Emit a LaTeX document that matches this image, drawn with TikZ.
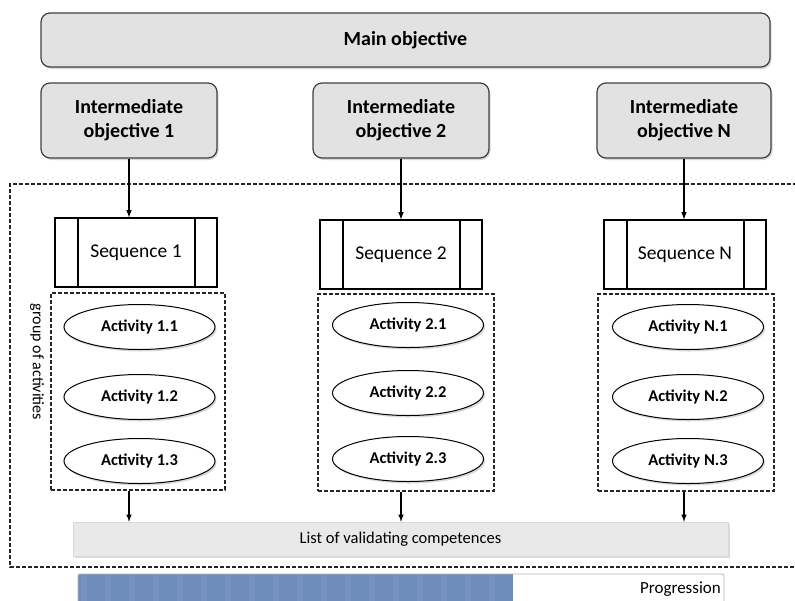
\documentclass[tikz,border=0pt]{standalone}
\usepackage{fontspec}
\setmainfont{Carlito}
\usetikzlibrary{shapes.geometric,shadows}

\definecolor{objgray}{HTML}{E2E2E2}
\definecolor{bargray}{HTML}{E9E9E9}
\definecolor{progblue}{HTML}{6E8DBA}
\definecolor{progstripe}{HTML}{7693BF}

\tikzset{
  softshadow/.style={drop shadow={opacity=0.3,shadow xshift=1.5pt,shadow yshift=-2pt}},
  dashline/.style={black!85, dash pattern=on 4pt off 2pt, line width=1.4pt},
  objective/.style={draw=black!75, line width=1.2pt, rounded corners=9pt, fill=objgray,
    softshadow, align=center, font=\fontsize{20}{24}\selectfont\bfseries},
  sequence/.style={draw, line width=1.2pt, fill=white, minimum width=162pt, minimum height=69pt,
    font=\fontsize{19.5}{22}\selectfont,
    path picture={
      \draw[line width=1.2pt] ([xshift=23pt]path picture bounding box.north west) -- ([xshift=23pt]path picture bounding box.south west);
      \draw[line width=1.2pt] ([xshift=-22pt]path picture bounding box.north east) -- ([xshift=-22pt]path picture bounding box.south east);
    }},
  activity/.style={ellipse, draw, line width=1pt, fill=white, minimum width=151pt, minimum height=45pt,
    softshadow, font=\fontsize{16.5}{19}\selectfont\bfseries},
  actgroup/.style={draw, dashline, minimum width=176pt, minimum height=197pt},
  flow/.style={-latex, line width=1.5pt},
}

\begin{document}
\begin{tikzpicture}[x=1pt,y=-1pt]
\useasboundingbox (0,0) rectangle (795,600);

% objectives
\node[objective, minimum width=729pt, minimum height=54pt] (main) at (405.5,40) {Main objective};
\node[objective, minimum width=176pt, minimum height=75pt] (int1) at (129,120.5) {Intermediate\\objective 1};
\node[objective, minimum width=176pt, minimum height=75pt] (int2) at (401,120.5) {Intermediate\\objective 2};
\node[objective, minimum width=174pt, minimum height=75pt] (intN) at (684,120.5) {Intermediate\\objective N};

% outer frame
\draw[dashline] (797,184) -| (10,567) -- (797,567);
\node[rotate=-90, font=\fontsize{16}{18}\selectfont] (grplabel) at (37,362) {group of activities};

% sequences
\node[sequence] (seq1) at (136,252.5) {Sequence 1};
\node[sequence] (seq2) at (401,254.5) {Sequence 2};
\node[sequence] (seqN) at (685,254.5) {Sequence N};

% groups of activities
\node[actgroup, minimum width=174pt] (grp1) at (138,391.5) {};
\node[actgroup] (grp2) at (406,392.5) {};
\node[actgroup] (grpN) at (686,392.5) {};

\node[activity] (a11) at (139.5,327) {Activity 1.1};
\node[activity] (a12) at (139.5,397) {Activity 1.2};
\node[activity] (a13) at (139.5,461) {Activity 1.3};
\node[activity] (a21) at (408,325) {Activity 2.1};
\node[activity] (a22) at (408,393) {Activity 2.2};
\node[activity] (a23) at (408,459) {Activity 2.3};
\node[activity] (aN1) at (688,327) {Activity N.1};
\node[activity] (aN2) at (688,397) {Activity N.2};
\node[activity] (aN3) at (688,461) {Activity N.3};

% competences
\node[draw=black!15, fill=bargray, softshadow, minimum width=655pt, minimum height=34pt,
  font=\fontsize{16.5}{19}\selectfont] (list) at (400.5,539) {List of validating competences};

\draw[flow] (int1.south) -- (int1 |- seq1.north);
\draw[flow] (int2.south) -- (int2 |- seq2.north);
\draw[flow] (intN.south) -- (intN |- seqN.north);
\draw[flow] (int1 |- grp1.south) -- (int1 |- list.north);
\draw[flow] (int2 |- grp2.south) -- (int2 |- list.north);
\draw[flow] (intN |- grpN.south) -- (intN |- list.north);

% progression bar
\fill[progblue] (78,574) rectangle (513,606);
\foreach \i in {0,2,...,34}
  \fill[progstripe] (78+12*\i+3,574) rectangle (78+12*\i+9,606);
\draw[black!30, line width=0.8pt, rounded corners=2pt] (78,574) rectangle (724,606);
\node[anchor=east, font=\fontsize{17}{19}\selectfont, inner sep=0pt] (prog) at (721,589) {Progression};
\end{tikzpicture}
\end{document}
